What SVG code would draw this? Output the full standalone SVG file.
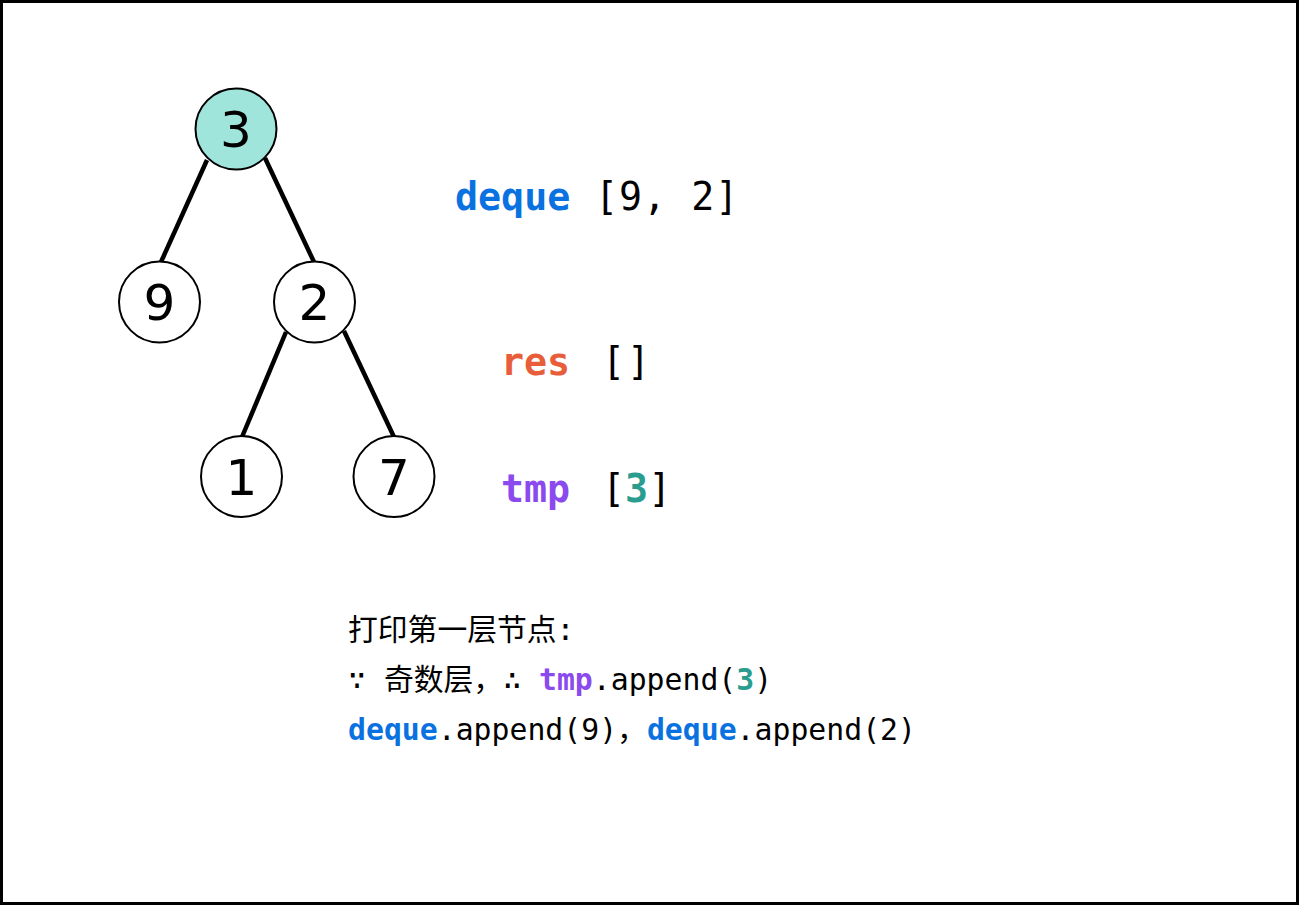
<svg xmlns="http://www.w3.org/2000/svg" width="1299" height="905" viewBox="0 0 1299 905">
<style>
.node circle{fill:#fff;stroke:#000;stroke-width:2}
.node text{font-family:"DejaVu Sans",sans-serif;font-size:50px;text-anchor:middle;fill:#000}
.edge{stroke:#000;stroke-width:4.5;stroke-linecap:butt}
.big{font-family:"DejaVu Sans Mono","Noto Sans CJK SC",monospace;font-size:38.3px;fill:#000}
.small{font-family:"DejaVu Sans Mono","Noto Sans CJK SC",monospace;font-size:29.8px;fill:#000}
.b{font-weight:bold}
.blue{fill:#0A72E0}
.red{fill:#E85D3A}
.purple{fill:#8A4AEE}
.teal{fill:#2A9D8F}
</style>
<rect x="1.5" y="1.5" width="1296" height="902" fill="#fff" stroke="#000" stroke-width="3"/>
<g id="connectors">
<line class="edge" x1="207" y1="160" x2="161" y2="262"/>
<line class="edge" x1="265" y1="158" x2="314" y2="262"/>
<line class="edge" x1="286" y1="332" x2="242" y2="437"/>
<line class="edge" x1="344" y1="331" x2="394" y2="437"/>
</g>
<g id="node-3" class="node"><circle cx="236" cy="129" r="40.5" style="fill:#9FE5DC"/><text x="236" y="147">3</text></g>
<g id="node-9" class="node"><circle cx="159.5" cy="302" r="40.5"/><text x="159.5" y="320">9</text></g>
<g id="node-2" class="node"><circle cx="314.5" cy="302" r="40.5"/><text x="314.5" y="320">2</text></g>
<g id="node-1" class="node"><circle cx="241.5" cy="476.5" r="40.5"/><text x="241.5" y="494.5">1</text></g>
<g id="node-7" class="node"><circle cx="394" cy="476.5" r="40.5"/><text x="394" y="494.5">7</text></g>
<g id="vars">
<text class="big b blue" x="455" y="210">deque</text>
<text class="big" x="595" y="210" letter-spacing="1">[9, 2]</text>
<text class="big b red" x="501" y="375">res</text>
<text class="big" x="602" y="375" letter-spacing="2">[]</text>
<text class="big b purple" x="501" y="502">tmp</text>
<text class="big" x="602" y="502">[<tspan class="b teal">3</tspan>]</text>
</g>
<g id="notes">
<text class="small" x="348" y="640">打印第一层节点:</text>
<text class="small" x="348" y="690">∵ 奇数层，∴ <tspan class="b purple">tmp</tspan>.append(<tspan class="b teal">3</tspan>)</text>
<text class="small" x="348" y="740"><tspan class="b blue">deque</tspan>.append(9)，<tspan class="b blue">deque</tspan>.append(2)</text>
</g>
</svg>
